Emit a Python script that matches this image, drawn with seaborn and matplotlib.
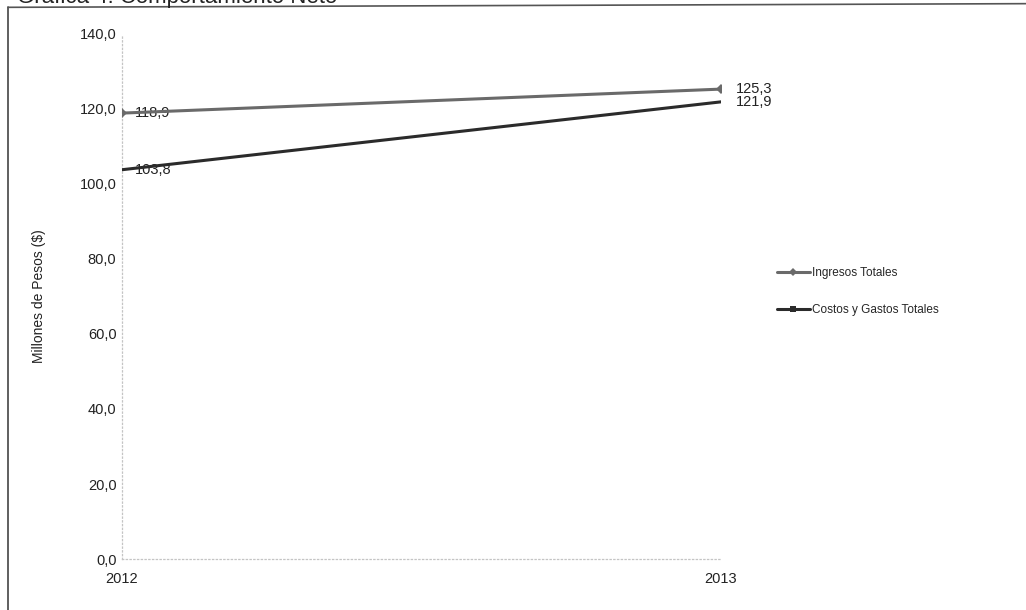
import pandas as pd
import matplotlib
matplotlib.use("Agg")
import matplotlib.pyplot as plt
import seaborn as sns
from matplotlib.ticker import FuncFormatter

# datos
years = [2012, 2013]
ingresos = [118.9, 125.3]
costos = [103.8, 121.9]
series_names = ["Ingresos Totales", "Costos y Gastos Totales"]
y_ticks = [0, 20, 40, 60, 80, 100, 120, 140]

df = pd.DataFrame({
    "Año": years * 2,
    "Valor": ingresos + costos,
    "Serie": [series_names[0]] * 2 + [series_names[1]] * 2,
})

sns.set_theme(style="white")
plt.rcParams["font.family"] = ["Liberation Sans", "DejaVu Sans"]

fig = plt.figure(figsize=(10.26, 6.10), dpi=100)
ax = fig.add_axes([0.1189, 0.0836, 0.5838, 0.8607])

sns.lineplot(data=df, x="Año", y="Valor", hue="Serie", style="Serie",
             palette={series_names[0]: "#6a6a6a", series_names[1]: "#2b2b2b"},
             markers={series_names[0]: "D", series_names[1]: "s"},
             dashes=False, linewidth=2.2, markersize=5, markeredgewidth=0,
             ax=ax, zorder=3)

# etiquetas de datos
for vals in [ingresos, costos]:
    for i, (x, v) in enumerate(zip(years, vals)):
        off = 9 if i == 0 else 11
        ax.annotate(f"{v:.1f}".replace(".", ","), (x, v), xytext=(off, 0),
                    textcoords="offset points", ha="left", va="center",
                    fontsize=10.5, color="#222222", zorder=1)

ax.set_xlim(2012, 2013)
ax.set_ylim(0, 140)
ax.set_xticks(years)
ax.set_xticklabels([str(y) for y in years])
ax.set_yticks(y_ticks)
ax.yaxis.set_major_formatter(FuncFormatter(lambda v, p: f"{v:.1f}".replace(".", ",")))
ax.tick_params(axis="both", length=0, labelsize=10.5, colors="#222222", pad=4)
ax.tick_params(axis="x", pad=9)
ax.set_xlabel("")
ax.set_ylabel("Millones de Pesos ($)", fontsize=10, color="#222222", labelpad=24)

for s in ["top", "right"]:
    ax.spines[s].set_visible(False)
for s in ["left", "bottom"]:
    ax.spines[s].set_color("#c4c4c4")
    ax.spines[s].set_linestyle((0, (1, 2)))
    ax.spines[s].set_linewidth(0.9)

leg = ax.legend(loc="center left", bbox_to_anchor=(0.757, 0.522),
                bbox_transform=fig.transFigure, frameon=False, fontsize=8.5,
                labelspacing=2.1, handlelength=2.8, handletextpad=0.2,
                borderpad=0, borderaxespad=0, title=None)
for h in leg.legend_handles:
    h.set_markersize(4.5)

# los puntos de costos no se ven en el original
for ln in ax.lines:
    if ln.get_marker() == "s":
        ln.set_markersize(0)

# marco y título recortado
fig.add_artist(plt.Line2D([0.008, 0.008], [0.0, 0.988], transform=fig.transFigure,
                          color="#444444", linewidth=1.2))
fig.add_artist(plt.Line2D([0.008, 1.0], [0.988, 0.994], transform=fig.transFigure,
                          color="#555555", linewidth=1.2))
fig.text(0.0166, 0.995, "Gráfica 4. Comportamiento Neto", fontsize=16,
         color="#222222", ha="left", va="baseline")

fig.savefig("out.png", dpi=100)
